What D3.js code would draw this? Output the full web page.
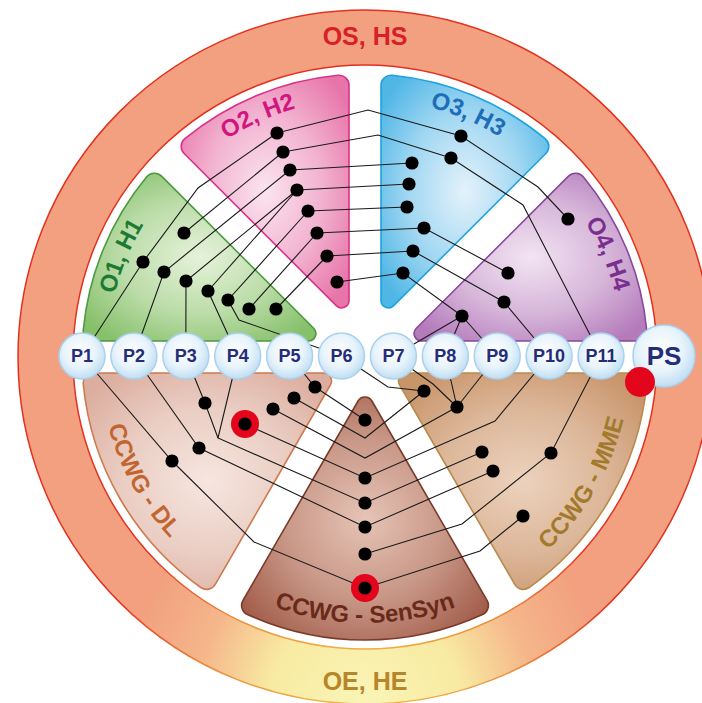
<!DOCTYPE html>
<html>
<head>
<meta charset="utf-8">
<script src="https://cdn.jsdelivr.net/npm/d3@7"></script>
<style>
body { margin: 0; background: #fff; }
svg { display: block; font-family: "Liberation Sans", Arial, sans-serif; font-weight: bold; }
</style>
</head>
<body>
<div id="wheel"></div>
<script>
var width = 702, height = 703;
var cx = 365, cy = 357;
var rSector = 283, ringIn = 292, ringOut = 347, gap = 16;

// sectors, degrees clockwise from 12 o'clock
var sectorNames = ["O1, H1", "O2, H2", "O3, H3", "O4, H4", "CCWG - MME", "CCWG - SenSyn", "CCWG - DL"];
var sectorFrom = [-90, -45, 0, 45, 90, 150, 210];
var sectorTo = [-45, 0, 45, 90, 150, 210, 270];
var labelAngle = [-67.5, -24, 23, 67, 120, 180, 241];
var ringLabels = ["OS, HS", "OE, HE"];
var portLabels = ["P1", "P2", "P3", "P4", "P5", "P6", "P7", "P8", "P9", "P10", "P11"];
var hubLabel = "PS";

// nodes inside each sector, offset from the wheel centre
var o1Nodes = [[-181, -124], [-222, -95], [-201, -85], [-179, -76], [-157, -66], [-137, -57], [-116, -48], [-89, -48]];
var o2Nodes = [[-88, -224], [-82, -205], [-75, -187], [-68, -167], [-57, -146], [-48, -124], [-38, -101], [-28, -75]];
var o3Nodes = [[96, -221], [86, -199], [47, -194], [44, -173], [42, -150], [59, -129], [48, -106], [38, -84]];
var o4Nodes = [[203, -138], [143, -84], [139, -55], [97, -41]];
var dlNodes = [[-160, 46], [-120, 67], [-92, 52], [-71, 41], [-50, 30], [-166, 91], [-193, 104]];
var senNodes = [[0, 63], [0, 121], [0, 146], [0, 170], [0, 197], [0, 231]];
var mmeNodes = [[59, 34], [92, 50], [117, 95], [128, 114], [186, 96], [158, 159]];
var flagged = ["d2", "s6"];

// corners where a link changes direction
var bends = {
  kb1: [3, -247], kb2: [13, -222], gb1: [-167, -169], bb1: [173, -170], bb2: [158, -152],
  gb6: [-126, -37], dbA: [-147, 81], db7: [-111, 185], c1: [0, 81], c2: [0, 101],
  mb1: [23, 30], mb2: [68, 27], mb10: [130, 64], mb5: [97, 167], mb6: [115, 194]
};

var links = [
  ["k1", "kb1", "b1", "bb1", "u1"],
  ["k2", "kb2", "b2", "bb2", "P11"],
  ["k3", "b3"], ["k4", "b4"], ["k5", "b5"],
  ["k6", "b6", "u2"],
  ["k7", "b7", "u3", "P10"],
  ["k8", "b8", "u4"],
  ["u4", "P7"], ["u4", "P8"], ["u4", "P9"],
  ["k1", "gb1", "g2", "P1"],
  ["k2", "g1"],
  ["k3", "g3", "P2"],
  ["k4", "g4", "P3"],
  ["k4", "g5", "P4"],
  ["k5", "g6", "gb6", "P6"],
  ["k6", "g7"], ["k7", "g8"],
  ["P1", "d7", "db7", "s6", "mb6", "m6"],
  ["P2", "d6", "s4", "m4"],
  ["P3", "d1", "dbA"],
  ["P4", "dbA", "s3", "m3"],
  ["P5", "d5", "s1"],
  ["d4", "c1", "m1"],
  ["d3", "c2", "m2"],
  ["d2", "s2", "mb10", "P10"],
  ["s5", "mb5", "m5", "P11"],
  ["P6", "mb1", "m1"],
  ["P7", "mb2", "m2"],
  ["P8", "m2"], ["P9", "m2"]
];

// styles
var fillIn = ["#e6f2da", "#fbe4ef", "#e4f2fb", "#f2e4f2", "#ecd2be", "#e6c4b6", "#f6e6e0"];
var fillOut = ["#86c06a", "#e875aa", "#4fb6e6", "#b47bbb", "#c8946a", "#a25c49", "#dcae9f"];
var strokeCol = ["#4b9a3f", "#d9318a", "#1ca3dd", "#874a9b", "#b98a4e", "#7a3a2a", "#cd7a4e"];
var textCol = ["#1d7a33", "#d2167f", "#1f6db7", "#7a2f8e", "#a27a2c", "#6a2a1a", "#c3652f"];

var x = d3.scaleLinear().domain([-rSector, rSector]).range([cx - rSector, cx + rSector]);
var y = d3.scaleLinear().domain([-rSector, rSector]).range([cy - rSector, cy + rSector]);
var px = d3.scalePoint().domain(portLabels).range([-283, 236]);
var rad = function (deg) { return deg * Math.PI / 180; };

var nodes = {};
o1Nodes.forEach(function (d, i) { nodes["g" + (i + 1)] = d; });
o2Nodes.forEach(function (d, i) { nodes["k" + (i + 1)] = d; });
o3Nodes.forEach(function (d, i) { nodes["b" + (i + 1)] = d; });
o4Nodes.forEach(function (d, i) { nodes["u" + (i + 1)] = d; });
dlNodes.forEach(function (d, i) { nodes["d" + (i + 1)] = d; });
senNodes.forEach(function (d, i) { nodes["s" + (i + 1)] = d; });
mmeNodes.forEach(function (d, i) { nodes["m" + (i + 1)] = d; });
var dotIds = Object.keys(nodes);
portLabels.forEach(function (p) { nodes[p] = [px(p), -1]; });
nodes[hubLabel] = [299, -1];
Object.keys(bends).forEach(function (k) { nodes[k] = bends[k]; });

var svg = d3.select("#wheel").append("svg")
  .attr("width", width)
  .attr("height", height);

var defs = svg.append("defs");

var sectors = sectorNames.map(function (name, i) {
  return { name: name, from: sectorFrom[i], to: sectorTo[i], mid: labelAngle[i], i: i };
});

sectors.forEach(function (s) {
  var g = defs.append("radialGradient").attr("id", "sg" + s.i)
    .attr("cx", "50%").attr("cy", "50%").attr("r", "62%");
  g.append("stop").attr("offset", "0%").attr("stop-color", fillIn[s.i]);
  g.append("stop").attr("offset", "55%").attr("stop-color", d3.interpolateRgb(fillIn[s.i], fillOut[s.i])(0.45));
  g.append("stop").attr("offset", "100%").attr("stop-color", fillOut[s.i]);
});

// ring path is drawn around (0,0), so its gradients live in that space
var ringFill = defs.append("radialGradient").attr("id", "ringFill")
  .attr("gradientUnits", "userSpaceOnUse")
  .attr("cx", 0).attr("cy", 345).attr("r", 240);
ringFill.append("stop").attr("offset", "0%").attr("stop-color", "#faf5b6");
ringFill.append("stop").attr("offset", "40%").attr("stop-color", "#f8eaa2");
ringFill.append("stop").attr("offset", "70%").attr("stop-color", "#f5b68a");
ringFill.append("stop").attr("offset", "100%").attr("stop-color", "#f2a07f");

var ringLine = defs.append("radialGradient").attr("id", "ringLine")
  .attr("gradientUnits", "userSpaceOnUse")
  .attr("cx", 0).attr("cy", 345).attr("r", 270);
ringLine.append("stop").attr("offset", "0%").attr("stop-color", "#efc04a");
ringLine.append("stop").attr("offset", "60%").attr("stop-color", "#ec8a3a");
ringLine.append("stop").attr("offset", "100%").attr("stop-color", "#e2311e");

var portFill = defs.append("radialGradient").attr("id", "portFill")
  .attr("cx", "45%").attr("cy", "40%").attr("r", "60%");
portFill.append("stop").attr("offset", "0%").attr("stop-color", "#ffffff");
portFill.append("stop").attr("offset", "60%").attr("stop-color", "#e7f3fb");
portFill.append("stop").attr("offset", "100%").attr("stop-color", "#bfdef3");

var root = svg.append("g");

// outer ring
root.append("path")
  .attr("d", d3.arc().innerRadius(ringIn).outerRadius(ringOut).startAngle(0).endAngle(2 * Math.PI)())
  .attr("transform", "translate(" + cx + "," + cy + ")")
  .attr("fill", "url(#ringFill)")
  .attr("stroke", "url(#ringLine)")
  .attr("stroke-width", 1.5);

root.append("text").attr("x", cx).attr("y", 45)
  .attr("text-anchor", "middle").attr("font-size", 25).attr("fill", "#d8202a")
  .text(ringLabels[0]);
root.append("text").attr("x", cx).attr("y", 690)
  .attr("text-anchor", "middle").attr("font-size", 25).attr("fill", "#b7852c")
  .text(ringLabels[1]);

// sectors
var arc = d3.arc()
  .outerRadius(rSector)
  .innerRadius(function (d) {
    var half = rad(d.to - d.from) / 2;
    return gap / Math.sin(half) + (d.i < 4 ? 12 : 8);
  })
  .startAngle(function (d) { return rad(d.from); })
  .endAngle(function (d) { return rad(d.to); })
  .padAngle(2 * Math.asin(gap / rSector))
  .padRadius(rSector)
  .cornerRadius(10);

root.append("g")
  .attr("transform", "translate(" + cx + "," + cy + ")")
  .selectAll("path")
  .data(sectors)
  .enter()
  .append("path")
  .attr("d", arc)
  .attr("fill", function (d) { return "url(#sg" + d.i + ")"; })
  .attr("stroke", function (d) { return strokeCol[d.i]; })
  .attr("stroke-width", 1.6);

// sector labels along arcs
sectors.forEach(function (s) {
  var p = d3.path();
  if (s.i < 4) {
    p.arc(cx, cy, 258, rad(s.mid - 40 - 90), rad(s.mid + 40 - 90), false);
  } else {
    p.arc(cx, cy, 266, rad(s.mid + 40 - 90), rad(s.mid - 40 - 90), true);
  }
  defs.append("path").attr("id", "lp" + s.i).attr("d", p.toString());
  root.append("text")
    .attr("font-size", 24)
    .attr("fill", textCol[s.i])
    .append("textPath")
    .attr("href", "#lp" + s.i)
    .attr("startOffset", "50%")
    .attr("text-anchor", "middle")
    .text(s.name);
});

// links
var line = d3.line()
  .x(function (id) { return x(nodes[id][0]); })
  .y(function (id) { return y(nodes[id][1]); });

root.append("g")
  .selectAll("path")
  .data(links)
  .enter()
  .append("path")
  .attr("d", line)
  .attr("fill", "none")
  .attr("stroke", "#1a1a1a")
  .attr("stroke-width", 1.1);

// red marked nodes
root.append("g")
  .selectAll("circle")
  .data(flagged)
  .enter()
  .append("circle")
  .attr("cx", function (id) { return x(nodes[id][0]); })
  .attr("cy", function (id) { return y(nodes[id][1]); })
  .attr("r", 14)
  .attr("fill", "#e3051b");

root.append("g")
  .selectAll("circle")
  .data(dotIds)
  .enter()
  .append("circle")
  .attr("cx", function (id) { return x(nodes[id][0]); })
  .attr("cy", function (id) { return y(nodes[id][1]); })
  .attr("r", 6.6)
  .attr("fill", "#000");

// ports
var ports = root.append("g")
  .selectAll("g")
  .data(portLabels.concat([hubLabel]))
  .enter()
  .append("g")
  .attr("transform", function (p) { return "translate(" + x(nodes[p][0]) + "," + y(nodes[p][1]) + ")"; });

ports.append("circle")
  .attr("r", function (p) { return p === hubLabel ? 31 : 23; })
  .attr("fill", "url(#portFill)")
  .attr("stroke", "#a9d1ee")
  .attr("stroke-width", 1.5);

ports.append("text")
  .attr("text-anchor", "middle")
  .attr("dy", "0.36em")
  .attr("font-size", function (p) { return p === hubLabel ? 26 : 18; })
  .attr("fill", "#252c78")
  .text(function (p) { return p; });

root.append("circle")
  .attr("cx", x(275))
  .attr("cy", y(25))
  .attr("r", 15)
  .attr("fill", "#e3051b");
</script>
</body>
</html>
